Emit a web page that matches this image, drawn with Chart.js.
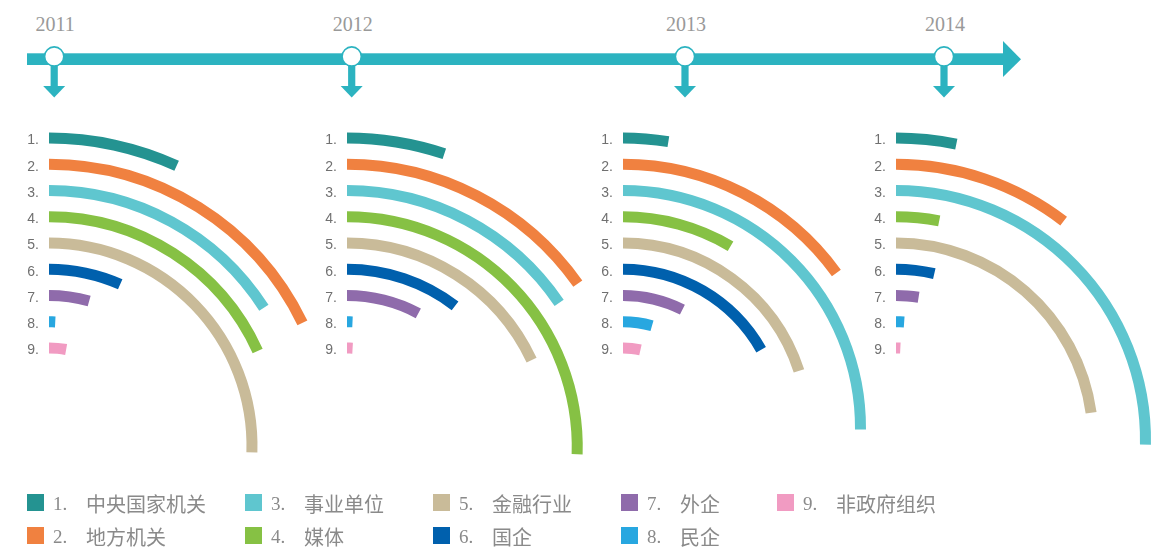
<!DOCTYPE html>
<html>
<head>
<meta charset="utf-8">
<script src="https://cdn.jsdelivr.net/npm/chart.js@4"></script>
<style>
  html, body { margin: 0; padding: 0; background: #fff; overflow: hidden; }
  #stage { position: relative; width: 1154px; height: 551px; overflow: hidden; }
  .panel { position: absolute; }
  .legend-item { position: absolute; height: 20px; }
  .legend-item .sw { position: absolute; left: 0; top: 1.5px; width: 17px; height: 17px; }
  .legend-item .num { position: absolute; left: 26px; top: 0px; font-family: "Liberation Serif", "DejaVu Serif", serif; font-size: 19px; color: #8a8a8a; white-space: nowrap; }
  .legend-item .txt { position: absolute; left: 59px; top: -4px; font-family: "Noto Sans CJK SC", sans-serif; font-size: 20px; color: #8a8a8a; white-space: nowrap; }
</style>
</head>
<body>
<div id="stage">
  <svg id="timeline" width="1154" height="110" style="position:absolute;left:0;top:0"></svg>
</div>
<script>
// Employment sectors, in ring order (outermost first)
const categories = ['中央国家机关', '地方机关', '事业单位', '媒体', '金融行业', '国企', '外企', '民企', '非政府组织'];
const colors = ['#249391', '#f08140', '#5fc6cf', '#86c144', '#c9bb99', '#0060ad', '#8f6bab', '#28a7e0', '#f19bc2'];
const years = ['2011', '2012', '2013', '2014'];

// Share of graduates per sector (%), one array per year
const share2011 = [6.8, 17.8, 15.9, 18.2, 25.5, 6.6, 4.3, 0.8, 2.8];
const share2012 = [5.1, 15.2, 15.5, 25.5, 18.0, 10.4, 7.8, 0.7, 0.9];
const share2013 = [2.5, 15.0, 25.1, 8.5, 20.0, 16.8, 7.4, 4.4, 3.5];
const share2014 = [3.2, 10.4, 25.3, 3.1, 22.8, 3.6, 2.5, 1.1, 0.75];
const shares = [share2011, share2012, share2013, share2014];

// Layout
const panelCenters = [{ x: 48.7, y: 446 }, { x: 346.7, y: 447 }, { x: 622.7, y: 428 }, { x: 896, y: 440 }];
const firstRingY = 138, ringStep = 26.25, ringWidth = 11;
const timelineColor = '#2cb3c0';
const markerX = [54.2, 351.7, 685, 944];

const stage = document.getElementById('stage');

// Timeline with year markers
(function drawTimeline() {
  const svg = document.getElementById('timeline');
  const ns = 'http://www.w3.org/2000/svg';
  const add = (tag, attrs, text) => {
    const el = document.createElementNS(ns, tag);
    for (const k in attrs) el.setAttribute(k, attrs[k]);
    if (text) el.textContent = text;
    svg.appendChild(el);
    return el;
  };
  add('rect', { x: 27, y: 53.3, width: 977, height: 11.7, fill: timelineColor });
  add('polygon', { points: '1003,41 1021,59.2 1003,77', fill: timelineColor });
  years.forEach((yr, i) => {
    const x = markerX[i];
    add('rect', { x: x - 3.6, y: 64, width: 7.2, height: 23, fill: timelineColor });
    add('polygon', { points: `${x - 11},86 ${x + 11},86 ${x},97.5`, fill: timelineColor });
    add('circle', { cx: x, cy: 56.5, r: 9.6, fill: '#fff', stroke: timelineColor, 'stroke-width': 1.6 });
    add('text', { x: x + 1, y: 30.5, 'text-anchor': 'middle', 'font-family': 'Liberation Serif, serif', 'font-size': 20, fill: '#999' }, yr);
  });
})();

// Draws the "1." … "9." index next to the start of each ring
const ringLabels = {
  id: 'ringLabels',
  afterDatasetsDraw(chart) {
    const ctx = chart.ctx;
    ctx.save();
    ctx.font = '14px "Liberation Sans", Arial, sans-serif';
    ctx.fillStyle = '#707070';
    ctx.textAlign = 'right';
    ctx.textBaseline = 'middle';
    chart.data.datasets.forEach((ds, di) => {
      if (!ds.rank) return;
      const arc = chart.getDatasetMeta(di).data[0];
      const p = arc.getProps(['x', 'y', 'innerRadius', 'outerRadius'], true);
      const mid = (p.innerRadius + p.outerRadius) / 2;
      ctx.fillText(ds.rank + '.', p.x - 10, p.y - mid + 2.5);
    });
    ctx.restore();
  }
};

function buildPanel(values, center) {
  const outerR = center.y - (firstRingY - ringWidth / 2);
  const innerR = center.y - (firstRingY + (values.length - 1) * ringStep + ringWidth / 2);
  const half = Math.ceil(outerR + 4);
  const box = document.createElement('div');
  box.className = 'panel';
  box.style.left = (center.x - half) + 'px';
  box.style.top = (center.y - half) + 'px';
  box.style.width = (2 * half) + 'px';
  box.style.height = (2 * half) + 'px';
  const canvas = document.createElement('canvas');
  canvas.width = 2 * half;
  canvas.height = 2 * half;
  box.appendChild(canvas);
  stage.appendChild(box);

  const datasets = [];
  values.forEach((v, i) => {
    if (i > 0) {
      datasets.push({ data: [100], backgroundColor: ['rgba(0,0,0,0)'], weight: ringStep - ringWidth, borderWidth: 0 });
    }
    datasets.push({
      label: categories[i],
      rank: i + 1,
      data: [v, 100 - v],
      backgroundColor: [colors[i], 'rgba(0,0,0,0)'],
      weight: ringWidth,
      borderWidth: 0
    });
  });

  new Chart(canvas, {
    type: 'doughnut',
    data: { labels: ['share', 'rest'], datasets },
    options: {
      responsive: false,
      animation: false,
      events: [],
      radius: outerR,
      cutout: (innerR / outerR * 100) + '%',
      rotation: 0,
      circumference: 360,
      layout: { padding: 0 },
      plugins: { legend: { display: false }, tooltip: { enabled: false } }
    },
    plugins: [ringLabels]
  });
}

shares.forEach((vals, i) => buildPanel(vals, panelCenters[i]));

// Legend, column-major in two rows
const legendCols = [27, 245, 433, 621, 777];
const legendRows = [492.5, 525.5];
categories.forEach((name, i) => {
  const item = document.createElement('div');
  item.className = 'legend-item';
  item.style.left = legendCols[Math.floor(i / 2)] + 'px';
  item.style.top = legendRows[i % 2] + 'px';
  item.innerHTML = `<div class="sw" style="background:${colors[i]}"></div><span class="num">${i + 1}.</span><span class="txt">${name}</span>`;
  stage.appendChild(item);
});
</script>
</body>
</html>
